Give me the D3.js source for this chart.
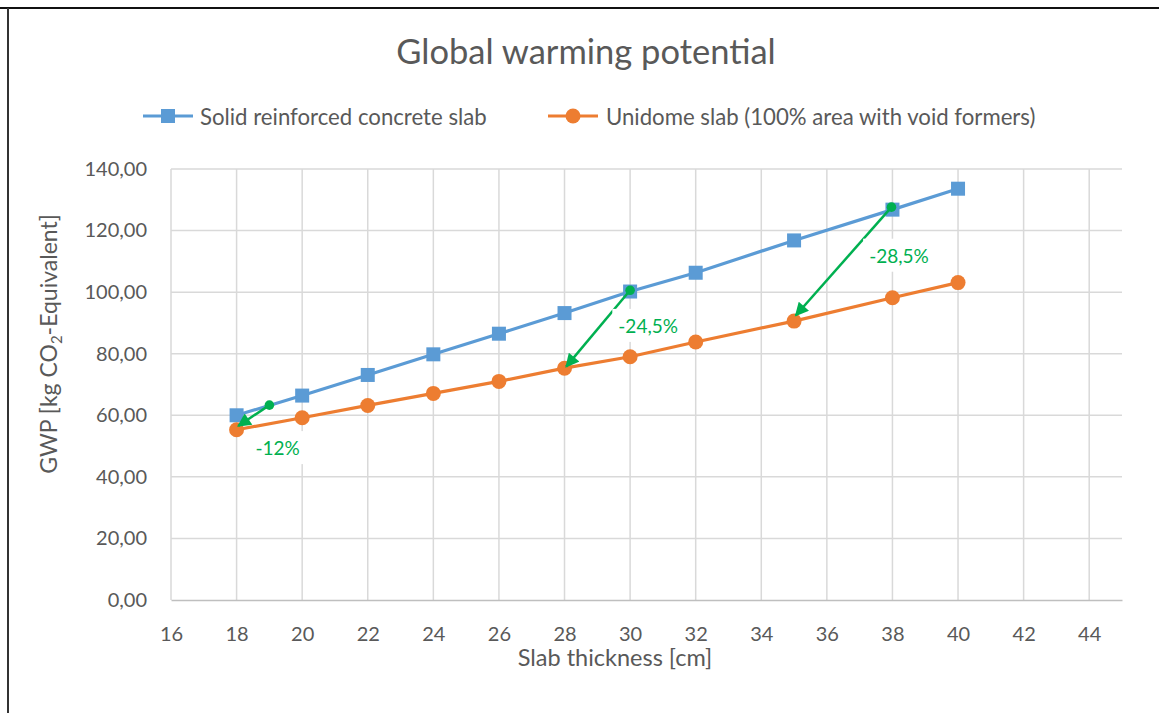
<!DOCTYPE html>
<html><head><meta charset="utf-8">
<script src="https://cdn.jsdelivr.net/npm/d3@7"></script>
<style>
html,body{margin:0;padding:0;background:#fff;}
text{font-family:Lato,"Open Sans",sans-serif;}
</style></head>
<body><svg id="c" width="1159" height="713"></svg>
<script>
const thickness = [18, 20, 22, 24, 26, 28, 30, 32, 35, 38, 40];
const solidGWP = [60.0, 66.4, 73.1, 79.8, 86.5, 93.2, 100.2, 106.3, 116.8, 126.8, 133.6];
const unidomeGWP = [55.3, 59.2, 63.2, 67.1, 71.0, 75.3, 79.0, 83.8, 90.6, 98.2, 103.1];
const seriesNames = ["Solid reinforced concrete slab", "Unidome slab (100% area with void formers)"];
const xTicks = [16, 18, 20, 22, 24, 26, 28, 30, 32, 34, 36, 38, 40, 42, 44];
const yTicks = [0, 20, 40, 60, 80, 100, 120, 140];
// annotation arrows: [x1, y1, x2, y2] in data units
const arrows = [[19.0, 63.3, 18.05, 56.5], [30.0, 100.6, 28.05, 75.8], [37.97, 127.6, 35.05, 92.4]];
const arrowLabels = ["-12%", "-24,5%", "-28,5%"];
const labelPos = [[19.25, 49.5], [30.55, 89.2], [38.2, 112.0]];

const svg = d3.select("#c");
const L = 171, R = 1122, T = 169, B = 600;
const x = d3.scaleLinear().domain([16, 45]).range([L, R]);
const y = d3.scaleLinear().domain([0, 140]).range([B, T]);
const grid = "#d9d9d9", txt = "#595959";

// frame
svg.append("line").attr("x1", 0).attr("x2", 1159).attr("y1", 8).attr("y2", 8).attr("stroke", "#111").attr("stroke-width", 2);
svg.append("line").attr("x1", 8).attr("x2", 8).attr("y1", 8).attr("y2", 713).attr("stroke", "#333").attr("stroke-width", 2);

// gridlines
svg.append("g").selectAll("line").data(yTicks.filter(d => d > 0)).join("line")
  .attr("x1", L).attr("x2", R).attr("y1", d => y(d)).attr("y2", d => y(d))
  .attr("stroke", grid).attr("stroke-width", 1.5);
svg.append("g").selectAll("line").data(xTicks).join("line")
  .attr("x1", d => x(d)).attr("x2", d => x(d)).attr("y1", T).attr("y2", B)
  .attr("stroke", grid).attr("stroke-width", 1.5);

// axes
const xAxis = d3.axisBottom(x).tickValues(xTicks).tickSize(0).tickPadding(27).tickFormat(d3.format("d"));
const gx = svg.append("g").attr("transform", `translate(0,${B})`).call(xAxis);
gx.select(".domain").attr("stroke", "#bfbfbf").attr("stroke-width", 1.5);
gx.selectAll("text").attr("fill", txt).attr("font-size", 20);

const yAxis = d3.axisLeft(y).tickValues(yTicks).tickSize(0).tickPadding(24)
  .tickFormat(d => d3.format(".2f")(d).replace(".", ","));
const gy = svg.append("g").attr("transform", `translate(${L},0)`).call(yAxis);
gy.select(".domain").remove();
gy.selectAll("text").attr("fill", txt).attr("font-size", 20);

// axis titles
svg.append("text").attr("x", 615).attr("y", 666).attr("text-anchor", "middle")
  .attr("fill", txt).attr("font-size", 23.5).text("Slab thickness [cm]");
const yt = svg.append("text").attr("transform", "translate(57,344) rotate(-90)")
  .attr("text-anchor", "middle").attr("fill", txt).attr("font-size", 23);
yt.append("tspan").text("GWP [kg CO");
yt.append("tspan").attr("font-size", 15).attr("dy", 5).text("2");
yt.append("tspan").attr("dy", -5).text("-Equivalent]");

// title
svg.append("text").attr("x", 586).attr("y", 64).attr("text-anchor", "middle")
  .attr("fill", txt).attr("font-size", 34.5).text("Global warming potential");

// series
const colors = ["#5B9BD5", "#ED7D31"];
const line = d3.line().x(d => x(d[0])).y(d => y(d[1]));
const s1 = thickness.map((t, i) => [t, solidGWP[i]]);
const s2 = thickness.map((t, i) => [t, unidomeGWP[i]]);
svg.append("path").datum(s1).attr("d", line).attr("fill", "none").attr("stroke", colors[0]).attr("stroke-width", 3.2);
svg.append("path").datum(s2).attr("d", line).attr("fill", "none").attr("stroke", colors[1]).attr("stroke-width", 3.2);
svg.append("g").selectAll("rect").data(s1).join("rect")
  .attr("x", d => x(d[0]) - 7).attr("y", d => y(d[1]) - 7).attr("width", 14).attr("height", 14)
  .attr("fill", colors[0]);
svg.append("g").selectAll("circle").data(s2).join("circle")
  .attr("cx", d => x(d[0])).attr("cy", d => y(d[1])).attr("r", 7.5).attr("fill", colors[1]);

// arrows
const green = "#00B050";
svg.append("defs").append("marker").attr("id", "ah").attr("viewBox", "0 0 10 10")
  .attr("refX", 9).attr("refY", 5).attr("markerWidth", 6).attr("markerHeight", 5.5)
  .attr("orient", "auto").attr("markerUnits", "strokeWidth")
  .append("path").attr("d", "M0,0 L10,5 L0,10 Z").attr("fill", green);
const ag = svg.append("g");
arrows.forEach(a => {
  ag.append("line").attr("x1", x(a[0])).attr("y1", y(a[1])).attr("x2", x(a[2])).attr("y2", y(a[3]))
    .attr("stroke", green).attr("stroke-width", 2.5).attr("marker-end", "url(#ah)");
  ag.append("circle").attr("cx", x(a[0])).attr("cy", y(a[1])).attr("r", 4.8).attr("fill", green);
});
// labels with white background
arrowLabels.forEach((t, i) => {
  const px = x(labelPos[i][0]), py = y(labelPos[i][1]);
  const tx = svg.append("text").attr("x", px).attr("y", py).attr("text-anchor", "middle")
    .attr("dominant-baseline", "central").attr("fill", green).attr("font-size", 19).text(t);
  const bb = tx.node().getBBox();
  svg.insert("rect", () => tx.node()).attr("x", bb.x - 6).attr("y", bb.y - 5)
    .attr("width", bb.width + 12).attr("height", bb.height + 10).attr("fill", "#fff");
});

// legend
const leg = [[143, 200], [548, 606]];
leg.forEach((p, i) => {
  const g = svg.append("g");
  g.append("line").attr("x1", p[0]).attr("x2", p[0] + 50).attr("y1", 116).attr("y2", 116)
    .attr("stroke", colors[i]).attr("stroke-width", 3.2);
  if (i === 0) g.append("rect").attr("x", p[0] + 25 - 7).attr("y", 109).attr("width", 14).attr("height", 14).attr("fill", colors[0]);
  else g.append("circle").attr("cx", p[0] + 25).attr("cy", 116).attr("r", 7.5).attr("fill", colors[1]);
  g.append("text").attr("x", p[1]).attr("y", 116).attr("dominant-baseline", "central")
    .attr("fill", txt).attr("font-size", 22.2).text(seriesNames[i]);
});
</script></body></html>
